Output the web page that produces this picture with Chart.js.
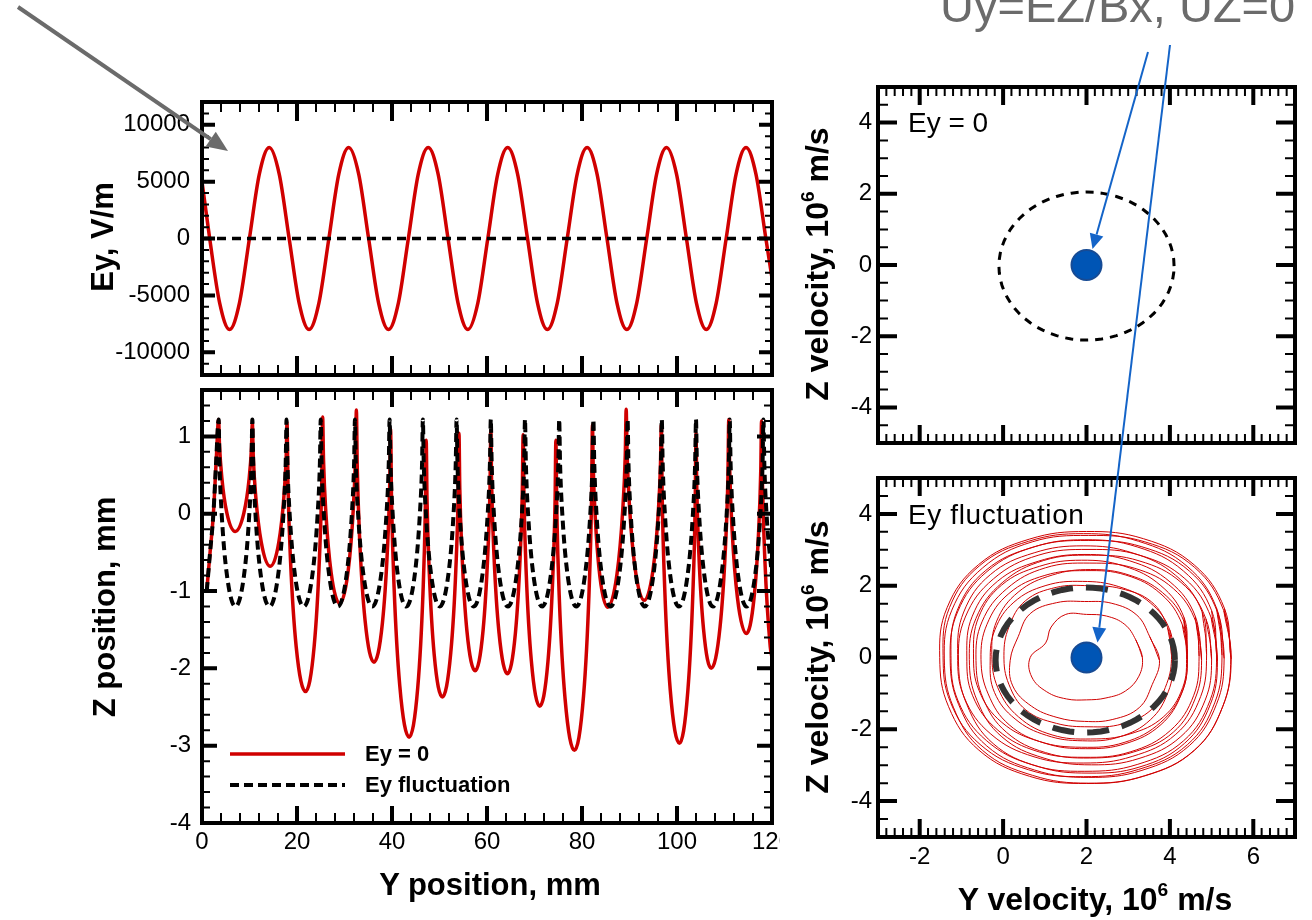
<!DOCTYPE html>
<html>
<head>
<meta charset="utf-8">
<script src="https://cdn.jsdelivr.net/npm/chart.js@4.4.1/dist/chart.umd.min.js"></script>
<style>
  body { margin: 0; background: #fff; width: 1312px; height: 920px; position: relative; overflow: hidden;
         font-family: "Liberation Sans", Arial, sans-serif; }
  canvas { position: absolute; }
  #overlay { z-index: 5; pointer-events: none; }
  .t { position: absolute; white-space: nowrap; line-height: 1; color: #000; z-index: 6; }
  .ttl { font-weight: bold; transform: translate(-50%, -50%); }
  .rot { transform: translate(-50%, -50%) rotate(-90deg); }
  sup { font-size: 60%; vertical-align: 0.75em; line-height: 0; }
</style>
</head>
<body>
<canvas id="eyChart" width="780" height="300" style="left:0;top:90px"></canvas>
<canvas id="zChart" width="780" height="500" style="left:0;top:380px"></canvas>
<canvas id="velTopChart" width="522" height="390" style="left:790px;top:70px"></canvas>
<canvas id="velBotChart" width="522" height="460" style="left:790px;top:460px"></canvas>
<canvas id="overlay" width="1312" height="920" style="left:0;top:0"></canvas>

<div class="t" style="left:940px;top:-18px;font-size:47px;color:#6b6b6b">Uy=EZ/Bx, UZ=0</div>
<div class="t" style="left:908px;top:109px;font-size:28px">Ey = 0</div>
<div class="t" style="left:908px;top:501px;font-size:28px;letter-spacing:0.6px">Ey fluctuation</div>

<div class="t ttl rot" style="left:102px;top:237px;font-size:31px">Ey, V/m</div>
<div class="t ttl rot" style="left:104px;top:607px;font-size:31px">Z position, mm</div>
<div class="t ttl" style="left:490px;top:884px;font-size:31px">Y position, mm</div>
<div class="t ttl rot" style="left:817px;top:264px;font-size:32px">Z velocity, 10<sup>6</sup> m/s</div>
<div class="t ttl rot" style="left:817px;top:657px;font-size:32px">Z velocity, 10<sup>6</sup> m/s</div>
<div class="t ttl" style="left:1095px;top:899px;font-size:32px">Y velocity, 10<sup>6</sup> m/s</div>

<script>
// ---- Ey along the path (top left) ----
const eyPosY = [0,
  1.62, 3.71, 5.80, 7.89, 9.98, 12.07, 14.16, 16.26,
  18.35, 20.44, 22.53, 24.62, 26.71, 28.80, 30.89, 32.99,
  35.08, 37.17, 39.26, 41.35, 43.44, 45.53, 47.62, 49.71,
  51.80, 53.89, 55.98, 58.08, 60.17, 62.26, 64.35, 66.44,
  68.53, 70.62, 72.71, 74.80, 76.89, 78.99, 81.08, 83.17,
  85.26, 87.35, 89.44, 91.53, 93.62, 95.71, 97.80, 99.90,
  101.99, 104.08, 106.17, 108.26, 110.35, 112.44, 114.53, 116.62,
  118.71, 120];
const eyValue = [5000,
  0, -5660, -8000, -5660, 0, 5660, 8000, 5660,
  0, -5660, -8000, -5660, 0, 5660, 8000, 5660,
  0, -5660, -8000, -5660, 0, 5660, 8000, 5660,
  0, -5660, -8000, -5660, 0, 5660, 8000, 5660,
  0, -5660, -8000, -5660, 0, 5660, 8000, 5660,
  0, -5660, -8000, -5660, 0, 5660, 8000, 5660,
  0, -5660, -8000, -5660, 0, 5660, 8000, 5660,
  0, -3500];
const eyZeroY = [0, 120];
const eyZeroV = [0, 0];
const eyTicks = [-10000, -5000, 0, 5000, 10000];
const posTicks = [0, 20, 40, 60, 80, 100, 120];

// ---- Z position vs Y position (bottom left) ----
const zRedY = [
  1.0, 1.7, 2.4, 3.0,
  3.5, 3.68, 4.17, 5.23, 7.0, 8.82, 9.92, 10.42,
  10.6, 10.79, 11.32, 12.48, 14.4, 16.17, 17.24, 17.73,
  17.9, 18.10, 18.64, 19.83, 21.8, 23.62, 24.72, 25.22,
  25.4, 25.58, 26.08, 27.18, 29.0, 30.77, 31.84, 32.33,
  32.5, 32.69, 33.20, 34.33, 36.2, 37.97, 39.04, 39.53,
  39.7, 39.90, 40.44, 41.63, 43.6, 45.42, 46.52, 47.02,
  47.2, 47.37, 47.85, 48.88, 50.6, 52.37, 53.44, 53.93,
  54.1, 54.27, 54.75, 55.78, 57.5, 59.17, 60.17, 60.64,
  60.8, 60.98, 61.47, 62.53, 64.3, 65.97, 66.97, 67.44,
  67.6, 67.78, 68.27, 69.33, 71.1, 72.82, 73.85, 74.33,
  74.5, 74.70, 75.24, 76.43, 78.4, 80.32, 81.48, 82.01,
  82.2, 82.36, 82.81, 83.78, 85.4, 87.37, 88.56, 89.11,
  89.3, 89.49, 90.02, 91.18, 93.1, 94.92, 96.02, 96.52,
  96.7, 96.89, 97.42, 98.58, 100.5, 102.27, 103.34, 103.83,
  104.0, 104.16, 104.61, 105.58, 107.2, 109.07, 110.20, 110.72,
  110.9, 111.09, 111.60, 112.73, 114.6, 116.22, 117.19, 117.64,
  117.8, 117.99, 118.50, 119.63, 120.0];
const zRedZ = [
  -1.0, -0.5, 0.0, 0.7,
  1.22, 0.89, 0.47, 0.01, -0.23, 0.01, 0.45, 0.86,
  1.18, 0.75, 0.22, -0.37, -0.68, -0.37, 0.22, 0.75,
  1.18, 0.38, -0.61, -1.72, -2.30, -1.71, -0.58, 0.43,
  1.25, 0.70, 0.01, -0.76, -1.16, -0.74, 0.05, 0.77,
  1.34, 0.59, -0.34, -1.38, -1.92, -1.42, -0.46, 0.41,
  1.10, 0.18, -0.95, -2.22, -2.89, -2.25, -1.03, 0.07,
  0.95, 0.19, -0.76, -1.82, -2.37, -1.80, -0.72, 0.26,
  1.04, 0.33, -0.54, -1.52, -2.03, -1.51, -0.52, 0.36,
  1.08, 0.36, -0.54, -1.54, -2.07, -1.55, -0.57, 0.31,
  1.02, 0.21, -0.79, -1.90, -2.49, -1.92, -0.82, 0.16,
  0.95, 0.03, -1.12, -2.39, -3.06, -2.36, -1.02, 0.18,
  1.15, 0.61, -0.07, -0.82, -1.21, -0.78, 0.03, 0.76,
  1.35, 0.78, 0.08, -0.71, -1.12, -0.74, -0.02, 0.63,
  1.15, 0.20, -0.97, -2.28, -2.97, -2.30, -1.03, 0.12,
  1.04, 0.34, -0.53, -1.49, -2.0, -1.46, -0.44, 0.48,
  1.22, 0.58, -0.21, -1.09, -1.55, -1.09, -0.22, 0.57,
  1.2, 0.40, -0.60, -1.72, -1.86];
const zDashY = [
  1.0, 1.7, 2.4, 3.0,
  3.5, 3.68, 4.17, 5.26, 7.05, 8.84, 9.93, 10.42,
  10.6, 10.78, 11.28, 12.38, 14.2, 16.02, 17.12, 17.62,
  17.8, 17.98, 18.48, 19.58, 21.4, 23.22, 24.32, 24.82,
  25.0, 25.18, 25.68, 26.78, 28.6, 30.42, 31.52, 32.02,
  32.2, 32.38, 32.89, 34.01, 35.85, 37.69, 38.81, 39.32,
  39.5, 39.68, 40.17, 41.23, 43.0, 44.77, 45.84, 46.33,
  46.5, 46.68, 47.17, 48.26, 50.05, 51.84, 52.93, 53.42,
  53.6, 53.78, 54.28, 55.38, 57.2, 59.02, 60.12, 60.62,
  60.8, 60.98, 61.48, 62.58, 64.4, 66.22, 67.32, 67.82,
  68.0, 68.18, 68.68, 69.78, 71.6, 73.42, 74.52, 75.02,
  75.2, 75.38, 75.88, 76.98, 78.8, 80.62, 81.72, 82.22,
  82.4, 82.58, 83.08, 84.18, 86.0, 87.82, 88.92, 89.42,
  89.6, 89.78, 90.28, 91.38, 93.2, 95.02, 96.12, 96.62,
  96.8, 96.98, 97.48, 98.58, 100.4, 102.22, 103.32, 103.82,
  104.0, 104.18, 104.67, 105.76, 107.55, 109.34, 110.43, 110.92,
  111.1, 111.28, 111.77, 112.86, 114.65, 116.44, 117.53, 118.02,
  118.2, 118.38, 118.88, 119.98];
const zDashZ = [
  -1.0, -0.5, 0.0, 0.7,
  1.22, 0.66, -0.03, -0.80, -1.20, -0.80, -0.03, 0.66,
  1.22, 0.66, -0.03, -0.80, -1.20, -0.80, -0.03, 0.66,
  1.22, 0.66, -0.03, -0.80, -1.20, -0.80, -0.03, 0.66,
  1.22, 0.66, -0.03, -0.80, -1.20, -0.80, -0.03, 0.66,
  1.22, 0.66, -0.03, -0.80, -1.20, -0.80, -0.03, 0.66,
  1.22, 0.66, -0.03, -0.80, -1.20, -0.80, -0.03, 0.66,
  1.22, 0.66, -0.03, -0.80, -1.20, -0.80, -0.03, 0.66,
  1.22, 0.66, -0.03, -0.80, -1.20, -0.80, -0.03, 0.66,
  1.22, 0.66, -0.03, -0.80, -1.20, -0.80, -0.03, 0.66,
  1.22, 0.66, -0.03, -0.80, -1.20, -0.80, -0.03, 0.66,
  1.22, 0.66, -0.03, -0.80, -1.20, -0.80, -0.03, 0.66,
  1.22, 0.66, -0.03, -0.80, -1.20, -0.80, -0.03, 0.66,
  1.22, 0.66, -0.03, -0.80, -1.20, -0.80, -0.03, 0.66,
  1.22, 0.66, -0.03, -0.80, -1.20, -0.80, -0.03, 0.66,
  1.22, 0.66, -0.03, -0.80, -1.20, -0.80, -0.03, 0.66,
  1.22, 0.66, -0.03, -0.80, -1.20, -0.80, -0.03, 0.66,
  1.22, 0.66, -0.03, -0.80];
const zTicks = [-4, -3, -2, -1, 0, 1];

// ---- velocity plane (right) ----
const velTicks = [-4, -2, 0, 2, 4];
const velTicksY = [-2, 0, 2, 4, 6];
const dotY = [2];
const dotZ = [0];
// dashed reference rings: [top panel, bottom panel]
const ringCenterY = [2.0, 1.97];
const ringCenterZ = [-0.03, -0.07];
const ringRadY = [2.1, 2.15];
const ringRadZ = [2.08, 2.02];
// trajectory loops with Ey fluctuation, radius read every 22.5 deg
const loopAngles = [0, 22.5, 45, 67.5, 90, 112.5, 135, 157.5, 180, 202.5, 225, 247.5, 270, 292.5, 315, 337.5];
const loopCenterY = [2.0, 1.95, 2.06, 1.90, 2.10, 1.97, 1.88, 2.08, 1.94, 2.12, 1.92, 2.06, 1.96, 2.04, 1.93, 2.05, 2.0];
const loopCenterZ = [0.0, -0.08, 0.05, -0.10, 0.08, -0.05, 0.10, -0.08, 0.04, -0.06, 0.08, -0.10, 0.05, -0.03, 0.06, -0.04, 0.0];
const loopRadii = [
  [1.34, 1.28, 1.30, 1.25, 1.20, 1.30, 1.20, 1.06, 1.35, 1.42, 1.35, 1.25, 1.18, 1.22, 1.32, 1.36],
  [1.80, 1.70, 1.78, 1.72, 1.64, 1.74, 1.84, 1.72, 1.78, 1.86, 1.80, 1.72, 1.70, 1.78, 1.86, 1.76],
  [1.98, 2.04, 2.12, 2.02, 1.95, 2.06, 2.16, 2.08, 2.04, 2.08, 2.14, 2.04, 1.98, 2.06, 2.12, 2.02],
  [2.18, 2.27, 2.30, 2.25, 2.22, 2.28, 2.32, 2.27, 2.21, 2.28, 2.28, 2.24, 2.22, 2.29, 2.31, 2.23],
  [2.30, 2.42, 2.44, 2.40, 2.37, 2.40, 2.46, 2.44, 2.37, 2.41, 2.45, 2.42, 2.35, 2.40, 2.46, 2.39],
  [2.45, 2.52, 2.57, 2.54, 2.47, 2.53, 2.59, 2.55, 2.50, 2.52, 2.58, 2.53, 2.49, 2.54, 2.57, 2.50],
  [2.54, 2.66, 2.69, 2.65, 2.61, 2.64, 2.71, 2.67, 2.59, 2.66, 2.70, 2.64, 2.60, 2.67, 2.69, 2.63],
  [2.68, 2.76, 2.83, 2.78, 2.71, 2.79, 2.82, 2.80, 2.73, 2.77, 2.83, 2.78, 2.72, 2.76, 2.83, 2.74],
  [2.76, 2.89, 2.92, 2.87, 2.83, 2.86, 2.94, 2.90, 2.81, 2.89, 2.92, 2.88, 2.82, 2.89, 2.93, 2.85],
  [2.88, 2.97, 3.04, 2.98, 2.91, 2.99, 3.03, 3.00, 2.93, 2.97, 3.04, 2.97, 2.93, 2.98, 3.03, 2.95],
  [2.96, 3.09, 3.13, 3.07, 3.03, 3.07, 3.15, 3.10, 3.01, 3.09, 3.13, 3.08, 3.02, 3.07, 3.14, 3.05],
  [3.08, 3.17, 3.25, 3.19, 3.11, 3.19, 3.24, 3.21, 3.13, 3.17, 3.25, 3.18, 3.12, 3.19, 3.24, 3.15],
  [3.16, 3.29, 3.34, 3.28, 3.23, 3.27, 3.36, 3.31, 3.21, 3.29, 3.34, 3.29, 3.22, 3.28, 3.35, 3.25],
  [3.26, 3.36, 3.44, 3.37, 3.29, 3.37, 3.43, 3.39, 3.31, 3.36, 3.44, 3.36, 3.31, 3.37, 3.43, 3.33],
  [3.32, 3.45, 3.51, 3.44, 3.39, 3.44, 3.53, 3.48, 3.37, 3.45, 3.51, 3.45, 3.38, 3.44, 3.52, 3.41],
  [3.42, 3.51, 3.60, 3.53, 3.44, 3.53, 3.59, 3.55, 3.46, 3.51, 3.60, 3.51, 3.46, 3.52, 3.59, 3.48],
  [3.46, 3.58, 3.65, 3.58, 3.51, 3.57, 3.66, 3.62, 3.52, 3.58, 3.65, 3.58, 3.51, 3.58, 3.66, 3.54]
];

const RED = '#d00000';
const FONT = '"Liberation Sans", Arial, sans-serif';
Chart.defaults.font.family = FONT;
Chart.defaults.color = '#000';

function pts(xs, ys) {
  return xs.map((x, i) => ({ x: x, y: ys[i] }));
}

function loopPoints(k) {
  const p = loopAngles.map((deg, i) => {
    const t = deg * Math.PI / 180;
    return { x: loopCenterY[k] + loopRadii[k][i] * Math.cos(t),
             y: loopCenterZ[k] + loopRadii[k][i] * Math.sin(t) };
  });
  p.push(p[0], p[1]);
  return p;
}

function ringPoints(k) {
  const p = [];
  for (let i = 0; i <= 72; i++) {
    const t = i * 5 * Math.PI / 180;
    p.push({ x: ringCenterY[k] + ringRadY[k] * Math.cos(t), y: ringCenterZ[k] + ringRadZ[k] * Math.sin(t) });
  }
  return p;
}

function stepValues(min, max, step) {
  const out = [];
  const n = Math.round((max - min) / step);
  for (let i = 0; i <= n; i++) out.push(min + i * step);
  return out;
}

function marks(ctx, a, scale, values, len, width, horizontal) {
  ctx.lineWidth = width;
  ctx.beginPath();
  values.forEach(v => {
    const p = scale.getPixelForValue(v);
    if (horizontal) {
      ctx.moveTo(p, a.bottom); ctx.lineTo(p, a.bottom - len);
      ctx.moveTo(p, a.top); ctx.lineTo(p, a.top + len);
    } else {
      ctx.moveTo(a.left, p); ctx.lineTo(a.left + len, p);
      ctx.moveTo(a.right, p); ctx.lineTo(a.right - len, p);
    }
  });
  ctx.stroke();
}

// box frame with inward ticks on all four sides
function frameTicks(cfg) {
  return {
    id: 'frameTicks',
    afterDatasetsDraw(chart) {
      const ctx = chart.ctx, a = chart.chartArea;
      const sx = chart.scales.x, sy = chart.scales.y;
      ctx.save();
      ctx.strokeStyle = '#000';
      ctx.setLineDash([]);
      marks(ctx, a, sx, stepValues(sx.min, sx.max, cfg.xMinor), cfg.xLen[1], 2, true);
      marks(ctx, a, sy, stepValues(sy.min, sy.max, cfg.yMinor), cfg.yLen[1], 2, false);
      marks(ctx, a, sx, cfg.xMajor, cfg.xLen[0], 4, true);
      marks(ctx, a, sy, cfg.yMajor, cfg.yLen[0], 4, false);
      ctx.lineWidth = 4;
      ctx.strokeRect(a.left, a.top, a.right - a.left, a.bottom - a.top);
      ctx.restore();
    }
  };
}

const legendBox = {
  id: 'legendBox',
  afterDatasetsDraw(chart) {
    const ctx = chart.ctx, a = chart.chartArea;
    const items = [chart.data.datasets[1], chart.data.datasets[0]];
    ctx.save();
    items.forEach((ds, i) => {
      const y = a.top + 364 + i * 31;
      ctx.strokeStyle = ds.borderColor;
      ctx.lineWidth = ds.borderWidth;
      ctx.setLineDash(ds.borderDash || []);
      ctx.beginPath();
      ctx.moveTo(a.left + 28, y);
      ctx.lineTo(a.left + 143, y);
      ctx.stroke();
      ctx.setLineDash([]);
      ctx.fillStyle = '#000';
      ctx.font = 'bold 22px ' + FONT;
      ctx.textBaseline = 'middle';
      ctx.fillText(ds.label, a.left + 163, y + 1);
    });
    ctx.restore();
  }
};

function axis(o) {
  return {
    type: 'linear',
    min: o.min,
    max: o.max,
    display: o.show,
    grid: { display: false, drawTicks: false },
    border: { display: false },
    afterBuildTicks: s => { s.ticks = o.ticks.map(v => ({ value: v })); },
    afterFit: s => {
      // labels may overhang the plot box, so keep the layout padding as given
      s.paddingLeft = 0; s.paddingRight = 0; s.paddingTop = 0; s.paddingBottom = 0;
      if (o.size !== undefined) { if (s.isHorizontal()) s.height = o.size; else s.width = o.size; }
    },
    ticks: { font: { size: o.font }, padding: o.pad, maxRotation: 0, autoSkip: false, callback: v => String(v) }
  };
}

function options(padding, xAxis, yAxis) {
  return {
    responsive: false,
    animation: false,
    events: [],
    layout: { padding: padding },
    plugins: { legend: { display: false }, tooltip: { enabled: false } },
    scales: { x: axis(xAxis), y: axis(yAxis) }
  };
}

const lineStyle = { showLine: true, pointRadius: 0, fill: false };

// top left: Ey
new Chart(document.getElementById('eyChart'), {
  type: 'scatter',
  data: {
    datasets: [
      Object.assign({ label: 'zero', data: pts(eyZeroY, eyZeroV), borderColor: '#000', borderWidth: 3.5, borderDash: [9, 6] }, lineStyle),
      Object.assign({ label: 'Ey', data: pts(eyPosY, eyValue), borderColor: RED, borderWidth: 3.5, cubicInterpolationMode: 'monotone' }, lineStyle)
    ]
  },
  options: options({ top: 12, right: 8, bottom: 15, left: 0 },
    { min: 0, max: 120, show: false, ticks: posTicks, font: 24, pad: 5 },
    { min: -12000, max: 12000, show: true, ticks: eyTicks, font: 24, pad: 12, size: 202 }),
  plugins: [frameTicks({ xMajor: posTicks, xMinor: 4, yMajor: eyTicks, yMinor: 1000, xLen: [19, 10], yLen: [13, 7] })]
});

// bottom left: Z position
new Chart(document.getElementById('zChart'), {
  type: 'scatter',
  data: {
    datasets: [
      Object.assign({ label: 'Ey fluctuation', data: pts(zDashY, zDashZ), borderColor: '#000', borderWidth: 4, borderDash: [9, 5], cubicInterpolationMode: 'monotone' }, lineStyle),
      Object.assign({ label: 'Ey = 0', data: pts(zRedY, zRedZ), borderColor: RED, borderWidth: 3.5, cubicInterpolationMode: 'monotone' }, lineStyle)
    ]
  },
  options: options({ top: 10, right: 8, bottom: 0, left: 0 },
    { min: 0, max: 120, show: true, ticks: posTicks, font: 24, pad: 5, size: 57 },
    { min: -4, max: 1.6, show: true, ticks: zTicks, font: 24, pad: 11, size: 202 }),
  plugins: [frameTicks({ xMajor: posTicks, xMinor: 4, yMajor: zTicks, yMinor: 0.2, xLen: [17, 10], yLen: [15, 8] }), legendBox]
});

const dotStyle = { pointRadius: 15, pointBackgroundColor: '#0055b5', pointBorderColor: '#174b94', pointBorderWidth: 2, showLine: false };

// top right: Ey = 0
const velTop = new Chart(document.getElementById('velTopChart'), {
  type: 'scatter',
  data: {
    datasets: [
      Object.assign({ label: 'center', data: pts(dotY, dotZ) }, dotStyle),
      Object.assign({ label: 'ring', data: ringPoints(0), borderColor: '#000', borderWidth: 3, borderDash: [8, 7], tension: 0 }, lineStyle)
    ]
  },
  options: options({ top: 16, right: 2, bottom: 17, left: 0 },
    { min: -3, max: 7, show: false, ticks: velTicksY, font: 24, pad: 6 },
    { min: -5, max: 5, show: true, ticks: velTicks, font: 24, pad: 6, size: 88 }),
  plugins: [frameTicks({ xMajor: velTicksY, xMinor: 0.2, yMajor: velTicks, yMinor: 0.5, xLen: [18, 9], yLen: [19, 10] })]
});

// bottom right: Ey fluctuation
const loopSets = loopRadii.map((r, k) => Object.assign({ label: 'loop ' + k, data: loopPoints(k), borderColor: RED, borderWidth: 1, tension: 0.4 }, lineStyle));
const velBottom = new Chart(document.getElementById('velBotChart'), {
  type: 'scatter',
  data: {
    datasets: [
      Object.assign({ label: 'center', data: pts(dotY, dotZ) }, dotStyle),
      Object.assign({ label: 'ring', data: ringPoints(1), borderColor: '#333', borderWidth: 6, borderDash: [22, 13], tension: 0 }, lineStyle)
    ].concat(loopSets)
  },
  options: options({ top: 18, right: 2, bottom: 0, left: 0 },
    { min: -3, max: 7, show: true, ticks: velTicksY, font: 24, pad: 6, size: 83 },
    { min: -5, max: 5, show: true, ticks: velTicks, font: 24, pad: 6, size: 88 }),
  plugins: [frameTicks({ xMajor: velTicksY, xMinor: 0.2, yMajor: velTicks, yMinor: 0.5, xLen: [18, 9], yLen: [19, 10] })]
});

// annotation arrows
const ov = document.getElementById('overlay').getContext('2d');

function arrow(ctx, x1, y1, x2, y2, color, width, headLen, headHalf) {
  const ang = Math.atan2(y2 - y1, x2 - x1);
  const bx = x2 - headLen * Math.cos(ang), by = y2 - headLen * Math.sin(ang);
  ctx.strokeStyle = color;
  ctx.lineWidth = width;
  ctx.beginPath();
  ctx.moveTo(x1, y1);
  ctx.lineTo(bx, by);
  ctx.stroke();
  ctx.fillStyle = color;
  ctx.beginPath();
  ctx.moveTo(x2, y2);
  ctx.lineTo(bx + headHalf * Math.sin(ang), by - headHalf * Math.cos(ang));
  ctx.lineTo(bx - headHalf * Math.sin(ang), by + headHalf * Math.cos(ang));
  ctx.closePath();
  ctx.fill();
}

function pagePoint(chart, left, top, x, y) {
  return [left + chart.scales.x.getPixelForValue(x), top + chart.scales.y.getPixelForValue(y)];
}

const d1 = pagePoint(velTop, 790, 70, dotY[0], dotZ[0]);
const d2 = pagePoint(velBottom, 790, 460, dotY[0], dotZ[0]);
arrow(ov, 18, 7, 228, 151, '#6b6b6b', 4, 21, 9);
arrow(ov, 1148, 52, d1[0] + 6, d1[1] - 16, '#1464c8', 2, 15, 7);
arrow(ov, 1170, 45, d2[0] + 11, d2[1] - 15, '#1464c8', 2, 15, 7);
</script>
</body>
</html>
